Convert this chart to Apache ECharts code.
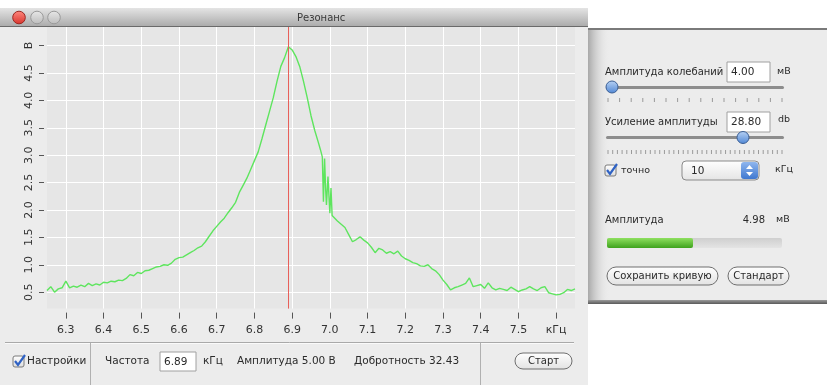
<!DOCTYPE html>
<html><head><meta charset="utf-8">
<script src="https://cdn.jsdelivr.net/npm/echarts@6/dist/echarts.min.js"></script>
<style>html,body{margin:0;padding:0;background:#fff;}#c{width:827px;height:385px;}</style>
</head><body><div id="c"></div>
<script>
// ---- data ----
const freq = [
6.25,6.26,6.27,6.28,6.29,6.30,6.31,6.32,6.33,6.34,
6.35,6.36,6.37,6.38,6.39,6.40,6.41,6.42,6.43,6.44,
6.45,6.46,6.47,6.48,6.49,6.50,6.51,6.52,6.53,6.54,
6.55,6.56,6.57,6.58,6.59,6.60,6.61,6.62,6.63,6.64,
6.65,6.66,6.67,6.68,6.69,6.70,6.71,6.72,6.73,6.74,
6.75,6.76,6.77,6.78,6.79,6.80,6.81,6.82,6.83,6.84,
6.85,6.86,6.87,6.88,6.89,6.90,6.91,6.92,6.93,6.94,
6.95,6.96,6.97,6.975,6.980,6.983,6.986,6.989,6.991,6.995,
6.998,7.000,7.003,7.006,7.01,7.02,7.03,7.04,7.05,7.06,
7.07,7.08,7.09,7.10,7.11,7.12,7.13,7.14,7.15,7.16,
7.17,7.18,7.19,7.20,7.21,7.22,7.23,7.24,7.25,7.26,
7.27,7.28,7.29,7.30,7.31,7.32,7.33,7.34,7.35,7.36,
7.37,7.38,7.39,7.40,7.41,7.42,7.43,7.44,7.45,7.46,
7.47,7.48,7.49,7.50,7.51,7.52,7.53,7.54,7.55,7.56,
7.57,7.58,7.59,7.60,7.61,7.62,7.63,7.64,7.65];
const amplitude = [
0.53,0.60,0.50,0.56,0.58,0.70,0.58,0.61,0.59,0.63,
0.60,0.66,0.62,0.65,0.63,0.68,0.67,0.70,0.69,0.72,
0.71,0.75,0.82,0.80,0.86,0.84,0.89,0.90,0.93,0.96,
0.97,1.00,0.99,1.03,1.10,1.13,1.14,1.18,1.22,1.26,
1.31,1.34,1.42,1.52,1.62,1.70,1.78,1.85,1.95,2.04,
2.14,2.32,2.45,2.58,2.74,2.90,3.06,3.30,3.55,3.80,
4.05,4.35,4.62,4.78,4.98,4.92,4.80,4.62,4.35,4.05,
3.72,3.45,3.22,3.10,2.97,2.15,2.94,2.35,2.09,2.61,
2.20,1.94,2.40,1.90,1.88,1.80,1.74,1.68,1.55,1.42,
1.46,1.51,1.45,1.40,1.32,1.22,1.30,1.27,1.21,1.24,
1.20,1.25,1.16,1.11,1.08,1.04,1.02,0.98,0.97,1.00,
0.93,0.89,0.82,0.72,0.64,0.54,0.58,0.60,0.63,0.66,
0.76,0.60,0.62,0.64,0.57,0.67,0.58,0.54,0.57,0.55,
0.53,0.59,0.55,0.51,0.54,0.56,0.60,0.56,0.53,0.58,
0.60,0.49,0.47,0.45,0.46,0.49,0.55,0.53,0.56];
const xTicks = [6.3,6.4,6.5,6.6,6.7,6.8,6.9,7.0,7.1,7.2,7.3,7.4,7.5,7.6];
const xUnitTick = 7.6, xUnit = 'кГц';
const yTicks = [0.5,1.0,1.5,2.0,2.5,3.0,3.5,4.0,4.5,5.0];
const yUnitTick = 5.0, yUnit = 'В';
const markerFreq = [6.89];

const FONT = 'DejaVu Sans';
const seriesData = freq.map((f, i) => [f, amplitude[i]]);

// ---- window chrome (static decoration) ----
function txt(x, y, s, size, opts) {
  opts = opts || {};
  return { type: 'text', z: opts.z || 20, x: x, y: y,
    style: { text: s, font: (opts.weight || 'normal') + ' ' + size + 'px "' + FONT + '"',
      fill: opts.color || '#2a2a2a', align: opts.align || 'left', verticalAlign: 'middle' } };
}
function grad(a, b) {
  return { type: 'linear', x: 0, y: 0, x2: 0, y2: 1, colorStops: [{ offset: 0, color: a }, { offset: 1, color: b }] };
}
function button(x, y, w, h, label) {
  return [
    { type: 'rect', z: 18, shape: { x: x, y: y, width: w, height: h, r: h / 2 },
      style: { fill: grad('#ffffff', '#e2e2e2'), stroke: '#6f6f6f', lineWidth: 1 } },
    txt(x + w / 2, y + h / 2 + 0.5, label, 10, { align: 'center' })
  ];
}
function inputBox(x, y, w, h, label) {
  return [
    { type: 'rect', z: 18, shape: { x: x, y: y, width: w, height: h },
      style: { fill: '#ffffff', stroke: '#a0a0a0', lineWidth: 1 } },
    txt(x + 4, y + h / 2 + 0.5, label, 10.5)
  ];
}
function checkbox(x, y) {
  return [
    { type: 'rect', z: 18, shape: { x: x, y: y, width: 11, height: 11, r: 2 },
      style: { fill: grad('#ffffff', '#dcdcdc'), stroke: '#7a7a7a', lineWidth: 1 } },
    { type: 'polyline', z: 19, shape: { points: [[x + 2, y + 5], [x + 5, y + 9], [x + 12, y - 1]] },
      style: { stroke: '#2f62c4', lineWidth: 2.2, fill: null } }
  ];
}
function ticksRow(x0, x1, y, n) {
  const out = [];
  for (let i = 0; i < n; i++) {
    const x = x0 + (x1 - x0) * i / (n - 1);
    out.push({ type: 'line', z: 18, shape: { x1: x, y1: y, x2: x, y2: y + 4 },
      style: { stroke: '#9a9a9a', lineWidth: 1 } });
  }
  return out;
}
function knob(cx, cy) {
  return { type: 'circle', z: 19, shape: { cx: cx, cy: cy, r: 6 },
    style: { fill: grad('#b9d3f5', '#4f86d4'), stroke: '#3b5f95', lineWidth: 1 } };
}

const graphics = [
  // main window background
  { type: 'rect', z: -10, shape: { x: 0, y: 8, width: 588, height: 377 }, style: { fill: '#ececec' } },
  // title bar
  { type: 'rect', z: 20, shape: { x: 0, y: 8, width: 588, height: 19 }, style: { fill: grad('#e4e4e4', '#a9a9a9') } },
  { type: 'rect', z: 20, shape: { x: 0, y: 26, width: 588, height: 1 }, style: { fill: '#6a6a6a' } },
  { type: 'circle', z: 21, shape: { cx: 19, cy: 17.5, r: 6.3 }, style: { fill: grad('#ff8a80', '#d8332c'), stroke: '#9b2822', lineWidth: 1 } },
  { type: 'circle', z: 21, shape: { cx: 37, cy: 17.5, r: 6.3 }, style: { fill: grad('#e8e8e8', '#bcbcbc'), stroke: '#9a9a9a', lineWidth: 1 } },
  { type: 'circle', z: 21, shape: { cx: 54, cy: 17.5, r: 6.3 }, style: { fill: grad('#e8e8e8', '#bcbcbc'), stroke: '#9a9a9a', lineWidth: 1 } },
  txt(297, 18, 'Резонанс', 10, { z: 22, color: '#3a3a3a' }),
  // bottom toolbar separators
  { type: 'line', z: 18, shape: { x1: 5, y1: 342.5, x2: 574, y2: 342.5 }, style: { stroke: '#a9a9a9', lineWidth: 1 } },
  { type: 'line', z: 18, shape: { x1: 5, y1: 343.5, x2: 574, y2: 343.5 }, style: { stroke: '#fafafa', lineWidth: 1 } },
  { type: 'line', z: 18, shape: { x1: 90.5, y1: 343, x2: 90.5, y2: 385 }, style: { stroke: '#b0b0b0', lineWidth: 1 } },
  { type: 'line', z: 18, shape: { x1: 480.5, y1: 343, x2: 480.5, y2: 385 }, style: { stroke: '#b0b0b0', lineWidth: 1 } },
  ...checkbox(13, 356),
  txt(27, 361.5, 'Настройки', 10.5),
  txt(105, 361.5, 'Частота', 10.5),
  ...inputBox(160, 352, 36, 19, '6.89'),
  txt(203, 361.5, 'кГц', 10.5),
  txt(237, 361.5, 'Амплитуда 5.00 В', 10.5),
  txt(354, 361.5, 'Добротность 32.43', 10.5),
  ...button(515, 353, 57, 16, 'Старт'),
  // right drawer panel
  { type: 'rect', z: 15, shape: { x: 588, y: 28, width: 239, height: 275 }, style: { fill: '#ececec' } },
  { type: 'rect', z: 16, shape: { x: 588, y: 28, width: 22, height: 275 },
    style: { fill: { type: 'linear', x: 0, y: 0, x2: 1, y2: 0, colorStops: [{ offset: 0, color: '#a8a8a8' }, { offset: 1, color: 'rgba(236,236,236,0)' }] } } },
  { type: 'rect', z: 16, shape: { x: 588, y: 28, width: 239, height: 2 }, style: { fill: '#7a7a7a' } },
  { type: 'rect', z: 16, shape: { x: 588, y: 300, width: 239, height: 4 }, style: { fill: grad('#9a9a9a', '#5a5a5a') } },
  txt(605, 72, 'Амплитуда колебаний', 10),
  ...inputBox(727, 62, 43, 20, '4.00'),
  txt(777, 72, 'мВ', 9.5),
  { type: 'rect', z: 18, shape: { x: 606, y: 86, width: 178, height: 3, r: 1.5 }, style: { fill: '#8d8d8d' } },
  ...ticksRow(608, 782, 98, 16),
  knob(612, 87),
  txt(605, 122, 'Усиление амплитуды', 10),
  ...inputBox(727, 112, 43, 20, '28.80'),
  txt(778, 120, 'db', 9.5),
  { type: 'rect', z: 18, shape: { x: 606, y: 136, width: 178, height: 3, r: 1.5 }, style: { fill: '#8d8d8d' } },
  ...ticksRow(608, 782, 150, 38),
  knob(743, 137.5),
  ...checkbox(605, 165),
  txt(621, 171, 'точно', 9.5),
  { type: 'rect', z: 18, shape: { x: 682, y: 161, width: 77, height: 19, r: 4 },
    style: { fill: grad('#ffffff', '#e4e4e4'), stroke: '#8a8a8a', lineWidth: 1 } },
  txt(691, 171, '10', 10.5),
  { type: 'rect', z: 19, shape: { x: 741, y: 162, width: 17, height: 17, r: 3 }, style: { fill: grad('#8fb6ee', '#3f78d0') } },
  { type: 'polygon', z: 20, shape: { points: [[746, 169], [749.5, 165], [753, 169]] }, style: { fill: '#fff' } },
  { type: 'polygon', z: 20, shape: { points: [[746, 172], [749.5, 176], [753, 172]] }, style: { fill: '#fff' } },
  txt(775, 170, 'кГц', 9.5),
  txt(605, 220, 'Амплитуда', 10),
  txt(765, 220, '4.98', 10, { align: 'right' }),
  txt(776, 220, 'мВ', 9.5),
  { type: 'rect', z: 18, shape: { x: 607, y: 238, width: 175, height: 10, r: 2 }, style: { fill: grad('#cfcfcf', '#e4e4e4') } },
  { type: 'rect', z: 19, shape: { x: 607, y: 238, width: 86, height: 10, r: 2 }, style: { fill: grad('#8fe060', '#3ea21d') } },
  ...button(607, 267, 111, 18, 'Сохранить кривую'),
  ...button(728, 267, 61, 18, 'Стандарт')
];

const chart = echarts.init(document.getElementById('c'), null, { renderer: 'canvas' });
chart.setOption({
  animation: false,
  backgroundColor: '#ffffff',
  textStyle: { fontFamily: FONT },
  grid: { left: 47, top: 26.4, width: 528, height: 282.2, show: true, backgroundColor: '#e6e6e6', borderWidth: 0 },
  xAxis: {
    type: 'value', min: 6.25, max: 7.65, offset: 4,
    axisLine: { show: false },
    axisTick: { show: true, customValues: xTicks, length: 6, lineStyle: { color: '#555', width: 1 } },
    axisLabel: { customValues: xTicks, margin: 12, fontSize: 11, color: '#333', fontFamily: FONT,
      formatter: v => (Math.abs(v - xUnitTick) < 1e-9 ? xUnit : v.toFixed(1)) },
    splitLine: { show: true, lineStyle: { color: '#ffffff', width: 1 } }
  },
  yAxis: {
    type: 'value', min: 0.2, max: 5.35, offset: 3,
    axisLine: { show: false },
    axisTick: { show: true, customValues: yTicks, length: 5, lineStyle: { color: '#555', width: 1 } },
    axisLabel: { customValues: yTicks, rotate: 90, margin: 9, fontSize: 11, color: '#333', fontFamily: FONT,
      formatter: v => (Math.abs(v - yUnitTick) < 1e-9 ? yUnit : v.toFixed(1)) },
    splitLine: { show: true, lineStyle: { color: '#ffffff', width: 1 } }
  },
  series: [{
    type: 'line', data: seriesData, showSymbol: false, symbol: 'none',
    lineStyle: { color: '#5ee55e', width: 1.4 },
    markLine: { silent: true, symbol: 'none', label: { show: false },
      lineStyle: { color: '#e8605a', type: 'solid', width: 1 },
      data: markerFreq.map(f => ({ xAxis: f })) }
  }],
  graphic: { elements: graphics }
});
</script></body></html>
